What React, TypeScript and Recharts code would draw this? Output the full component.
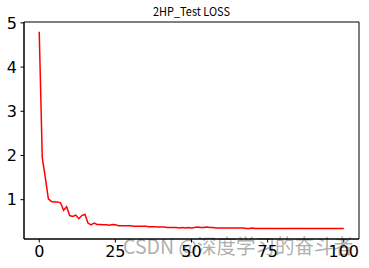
import React from 'react'
import { LineChart, Line, XAxis, YAxis, ReferenceArea } from 'recharts'

const epochs = Array.from({ length: 101 }, (_, i) => i)

const loss = [
    4.8, 1.95, 1.5, 1.02, 0.96, 0.95, 0.95, 0.93, 0.76, 0.84,
    0.64, 0.62, 0.65, 0.57, 0.64, 0.67, 0.47, 0.43, 0.47, 0.44,
    0.44, 0.43, 0.43, 0.42, 0.44, 0.43, 0.41, 0.41, 0.41, 0.41,
    0.41, 0.4, 0.4, 0.4, 0.4, 0.4, 0.39, 0.39, 0.39, 0.38,
    0.38, 0.38, 0.37, 0.37, 0.37, 0.37, 0.36, 0.37, 0.36, 0.37,
    0.36, 0.37, 0.38, 0.37, 0.37, 0.38, 0.37, 0.37, 0.36, 0.36,
    0.36, 0.36, 0.36, 0.36, 0.36, 0.36, 0.36, 0.36, 0.35, 0.35,
    0.36, 0.35, 0.35, 0.35, 0.35, 0.35, 0.35, 0.35, 0.35, 0.35,
    0.35, 0.35, 0.35, 0.35, 0.35, 0.35, 0.35, 0.35, 0.35, 0.35,
    0.35, 0.35, 0.35, 0.35, 0.35, 0.35, 0.35, 0.35, 0.35, 0.35,
    0.35,
]

const xTicks = [0, 25, 50, 75, 100]
const yTicks = [1, 2, 3, 4, 5]
const xDomain = [-5, 105]
const yDomain = [0.11, 5.02]

const data = epochs.map((e, i) => ({ epoch: e, loss: loss[i] }))

const tickStyle = { fontFamily: 'DejaVu Sans', fontSize: 16, fill: '#000' }

function App() {
    return (
        <div style={{ position: 'absolute', left: 0, top: 0, background: '#fff' }}>
            <LineChart width={369} height={268} data={data}
                margin={{ top: 22, right: 10, left: 0, bottom: 0 }}>
                <XAxis dataKey="epoch" type="number" domain={xDomain} ticks={xTicks}
                    allowDataOverflow height={29} tick={tickStyle} tickSize={3.5} tickMargin={3}
                    axisLine={{ stroke: '#000' }} tickLine={{ stroke: '#000' }} />
                <YAxis type="number" domain={yDomain} ticks={yTicks} allowDataOverflow
                    width={24} tick={tickStyle} tickSize={3.5} tickMargin={3.5}
                    axisLine={{ stroke: '#000' }} tickLine={{ stroke: '#000' }} />
                <ReferenceArea x1={xDomain[0]} x2={xDomain[1]} y1={yDomain[0]} y2={yDomain[1]}
                    fill="none" stroke="#000" strokeWidth={1} fillOpacity={0} />
                <Line dataKey="loss" stroke="#ff0000" strokeWidth={1.5} dot={false}
                    type="linear" isAnimationActive={false} />
                <text x={191.5} y={16} textAnchor="middle" fontFamily="Noto Sans CJK SC"
                    fontSize={12} textLength={77} lengthAdjust="spacingAndGlyphs">2HP_Test LOSS</text>
                <text x={123} y={254} fontFamily="Noto Sans CJK SC" fontSize={20} fill="#999"
                    fillOpacity={0.8} textLength={230} lengthAdjust="spacingAndGlyphs">CSDN @深度学习的奋斗者</text>
            </LineChart>
        </div>
    )
}

export default App
